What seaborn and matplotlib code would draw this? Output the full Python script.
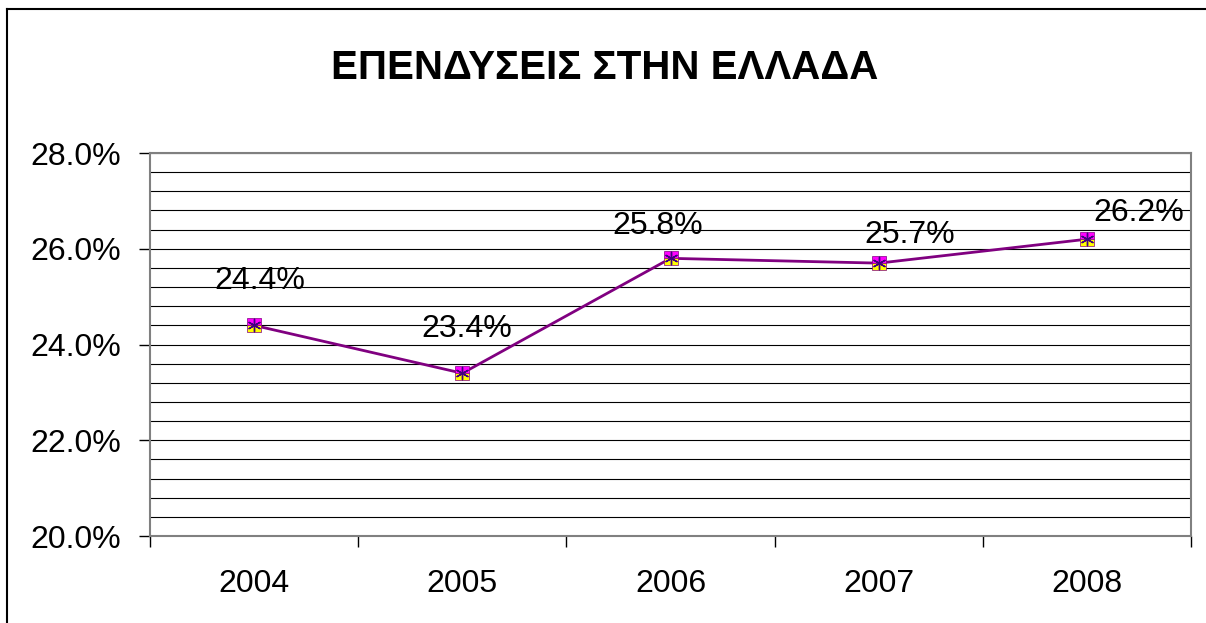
import numpy as np
import pandas as pd
import matplotlib
matplotlib.use("Agg")
import matplotlib.pyplot as plt
from matplotlib.lines import Line2D
from matplotlib.ticker import FuncFormatter, MultipleLocator, FixedLocator
import seaborn as sns

# chart data
years = ["2004", "2005", "2006", "2007", "2008"]
investment_pct = [24.4, 23.4, 25.8, 25.7, 26.2]
title = "ΕΠΕΝΔΥΣΕΙΣ ΣΤΗΝ ΕΛΛΑΔΑ"

# manual label offsets (points), as placed in the original chart
label_offsets = [(4, 32), (3, 32), (-9, 23), (22, 20), (37, 19)]

sns.set_theme(style="white")
plt.rcParams["font.family"] = ["Liberation Sans", "DejaVu Sans"]
plt.rcParams.update({"text.color": "black", "axes.labelcolor": "black",
                     "xtick.color": "black", "ytick.color": "black"})

df = pd.DataFrame({"year": years, "value": investment_pct})

fig = plt.figure(figsize=(12.06, 6.23), dpi=100)
ax = fig.add_axes([0.1244, 0.1396, 0.8632, 0.6148])

sns.lineplot(data=df, x="year", y="value", ax=ax, color="#800080", linewidth=2,
             marker="s", markersize=10, markeredgecolor="#800080", markeredgewidth=0.5,
             markerfacecolor="#FF00FF", fillstyle="top", markerfacecoloralt="#FFFF00",
             zorder=3)
sns.scatterplot(data=df, x="year", y="value", ax=ax, marker=(6, 2, 0), s=80,
                color="#400080", linewidth=1.0, zorder=4, legend=False)

for i, (v, (dx, dy)) in enumerate(zip(investment_pct, label_offsets)):
    ax.annotate(f"{v:.1f}%", (i, v), xytext=(dx, dy), textcoords="offset points",
                ha="center", va="center", fontsize=23, color="black", zorder=5)

ax.set_xlim(-0.5, len(years) - 0.5)
ax.set_ylim(20, 28)
ax.yaxis.set_major_locator(MultipleLocator(2))
ax.yaxis.set_minor_locator(MultipleLocator(0.4))
ax.yaxis.set_major_formatter(FuncFormatter(lambda y, _: f"{y:.1f}%"))
ax.grid(True, axis="y", which="both", color="#000000", linewidth=0.8)
ax.set_axisbelow(True)

# tick marks between categories, labels in the middle
ax.xaxis.set_major_locator(FixedLocator(np.arange(len(years) + 1) - 0.5))
ax.xaxis.set_major_formatter(FuncFormatter(lambda x, _: ""))
ax.set_xticks(np.arange(len(years)), years, minor=True)
ax.tick_params(axis="x", which="major", direction="out", length=8, width=1, color="black", bottom=True)
ax.tick_params(axis="x", which="minor", length=0, pad=24, labelsize=23, bottom=True)
ax.tick_params(axis="y", which="major", direction="out", length=8, width=1, color="black",
               pad=13, labelsize=23, left=True)
ax.tick_params(axis="y", which="minor", length=0)
ax.set_xlabel("")
ax.set_ylabel("")

for side in ["left", "right", "top", "bottom"]:
    ax.spines[side].set_visible(True)
    ax.spines[side].set_color("#808080")
    ax.spines[side].set_linewidth(1.5)

fig.text(0.501, 0.891, title, ha="center", va="center", fontsize=29, fontweight="bold")

# outer chart frame (only left and top edges show in the original)
fx, fy = 0.0058, 0.9856
fig.add_artist(Line2D([fx, fx], [-0.05, fy], transform=fig.transFigure, color="black",
                      linewidth=1.5, solid_capstyle="projecting"))
fig.add_artist(Line2D([fx, 1.05], [fy, fy], transform=fig.transFigure, color="black",
                      linewidth=1.5, solid_capstyle="projecting"))

fig.savefig("out.png", dpi=100)
